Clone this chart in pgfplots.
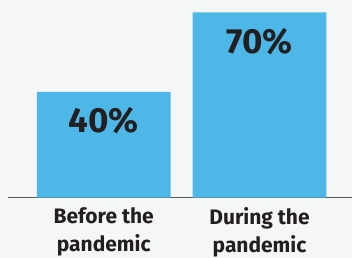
\documentclass[border=0pt]{standalone}
\usepackage{pgfplots}
\pgfplotsset{compat=1.18}
\usepackage{fontspec}
\setmainfont{Fira Sans}
\definecolor{bg}{HTML}{F5F6F6}
\definecolor{barblue}{HTML}{4DB8E8}
\definecolor{txt}{HTML}{231F20}
\begin{document}
\begin{tikzpicture}[x=1pt,y=1pt]
\fill[bg] (0,0) rectangle (353,258);
\begin{axis}[
  at={(8pt,60pt)}, anchor=south west,
  scale only axis, width=345pt, height=198pt,
  xmin=-0.615, xmax=1.596, ymin=0, ymax=74.72,
  ybar, bar width=134pt, bar shift=0pt,
  axis y line=none,
  axis x line*=bottom,
  x axis line style={draw=black!65, line width=1.3pt, -},
  xtick={0,1}, major tick length=0pt,
  xticklabels={{Before the\\pandemic},{During the\\pandemic}},
  xticklabel style={font=\bfseries\fontsize{21}{28}\selectfont, align=center, text=txt, inner sep=0pt},
  x tick label style={yshift=-10pt},
  clip=false,
  nodes near coords={\pgfmathprintnumber[assume math mode=true]{\pgfplotspointmeta}\%},
  every node near coord/.append style={anchor=north, yshift=-12pt, font=\bfseries\fontsize{35}{35}\selectfont, text=txt},
]
\addplot[fill=barblue, draw=none] coordinates {(0,40) (1,70)};
\end{axis}
\end{tikzpicture}
\end{document}
